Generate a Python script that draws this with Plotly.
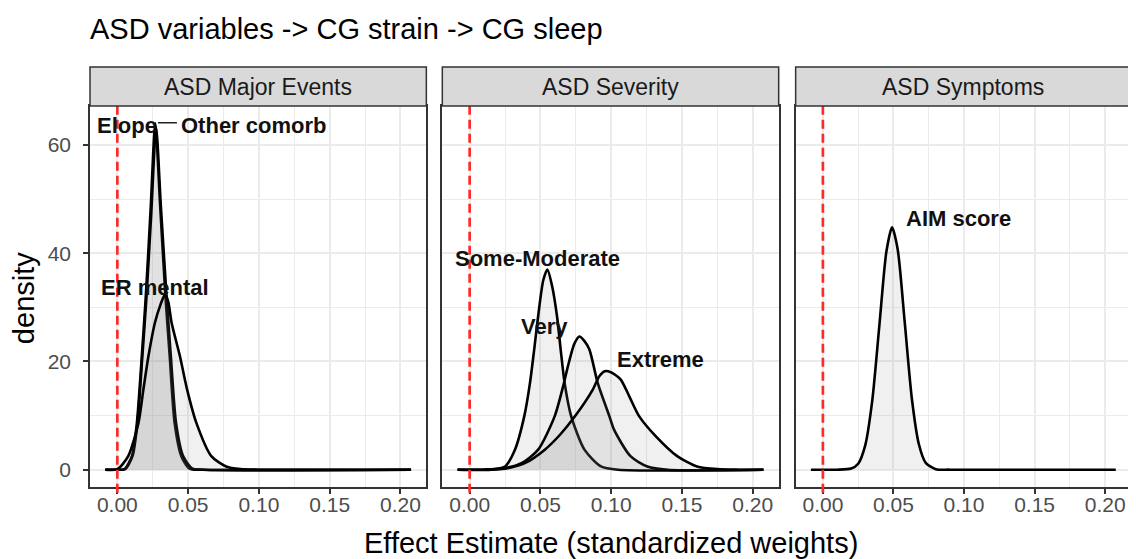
import plotly.graph_objects as go

# ---------------- data ----------------
facets = ["ASD Major Events", "ASD Severity", "ASD Symptoms"]

elope_x = [-0.0085, 0.0, 0.005, 0.0103, 0.0138, 0.0173, 0.0200, 0.0235, 0.0268, 0.0302, 0.0340, 0.0370, 0.0405, 0.0452, 0.0510, 0.060, 0.2075]
elope_y = [0, 0, 0.1, 2.5, 8.6, 21.0, 31.5, 48.0, 64.0, 49.0, 32.0, 21.0, 8.6, 2.5, 0.2, 0, 0]

other_x = [-0.0085, 0.0, 0.0055, 0.0107, 0.0142, 0.0177, 0.0205, 0.0240, 0.0274, 0.0308, 0.0348, 0.0378, 0.0415, 0.0465, 0.0530, 0.062, 0.2075]
other_y = [0, 0, 0.1, 2.5, 8.6, 21.0, 31.5, 47.5, 63.2, 48.5, 32.0, 21.0, 8.6, 2.5, 0.2, 0, 0]

er_x = [-0.0085, 0.0, 0.0077, 0.0149, 0.0184, 0.0220, 0.0266, 0.0305, 0.0337, 0.0360, 0.0383, 0.0442, 0.0493, 0.0559, 0.0664, 0.0769, 0.0870, 0.100, 0.2075]
er_y = [0, 0.1, 2.5, 8.6, 14.8, 21.0, 27.2, 30.5, 32.4, 31.0, 27.2, 21.0, 14.8, 8.6, 2.5, 0.6, 0.1, 0, 0]

some_x = [-0.0085, 0.015, 0.025, 0.032, 0.0386, 0.0426, 0.0456, 0.0484, 0.0520, 0.0549, 0.0582, 0.0617, 0.0643, 0.0671, 0.0717, 0.0811, 0.0928, 0.105, 0.2075]
some_y = [0, 0, 0.6, 3.7, 9.9, 16.0, 22.2, 28.4, 35.0, 37.0, 34.0, 28.4, 22.2, 16.0, 9.9, 3.7, 0.6, 0, 0]

very_x = [-0.0085, 0.010, 0.0226, 0.0367, 0.0484, 0.0601, 0.0666, 0.0694, 0.0740, 0.0776, 0.0810, 0.0846, 0.0905, 0.0987, 0.1020, 0.1136, 0.1255, 0.140, 0.2075]
very_y = [0, 0, 0.2, 1.2, 3.7, 9.9, 16.0, 19.1, 23.3, 24.6, 23.8, 22.2, 16.0, 9.9, 7.4, 2.5, 0.6, 0, 0]

extreme_x = [-0.0085, 0.010, 0.025, 0.039, 0.0531, 0.064, 0.0745, 0.0870, 0.0917, 0.0955, 0.0998, 0.1066, 0.1127, 0.1197, 0.1314, 0.1466, 0.1606, 0.175, 0.190, 0.2075]
extreme_y = [0, 0, 0.2, 1.2, 3.7, 6.5, 9.9, 14.8, 17.3, 18.2, 18.0, 16.7, 13.6, 9.9, 6.2, 2.5, 0.6, 0.1, 0, 0]

aim_x = [-0.0085, 0.0, 0.010, 0.020, 0.025, 0.030, 0.035, 0.040, 0.045, 0.049, 0.053, 0.058, 0.063, 0.068, 0.073, 0.080, 0.090, 0.2075]
aim_y = [0, 0, 0, 0.2, 1.1, 4.5, 12.8, 26.6, 40.3, 44.8, 40.7, 27.2, 13.2, 4.7, 1.2, 0.1, 0, 0]

curves = [
    (1, elope_x, elope_y), (1, other_x, other_y), (1, er_x, er_y),
    (2, some_x, some_y), (2, very_x, very_y), (2, extreme_x, extreme_y),
    (3, aim_x, aim_y),
]

label_text = ["Elope", "Other comorb", "ER mental", "Some-Moderate", "Very", "Extreme", "AIM score"]
label_panel = [1, 1, 1, 2, 2, 2, 3]
label_x = [0.0065, 0.0964, 0.0266, 0.048, 0.0529, 0.1349, 0.0958]
label_y = [63.6, 63.6, 33.6, 39.1, 26.4, 20.3, 46.4]

x_ticks = [0.00, 0.05, 0.10, 0.15, 0.20]
x_ticklabels = ["0.00", "0.05", "0.10", "0.15", "0.20"]
y_ticks = [0, 20, 40, 60]

# ---------------- figure ----------------
OFF = 8  # page body margin of the browser
W, H = 1136 - OFF, 559 - OFF
ML, MR, MT, MB = 90 - OFF, 3, 67 - OFF, 72
pw = W - ML - MR
ph = H - MT - MB
panel_px = [(90, 427), (443, 780), (797, 1133)]
domains = [[(a - 90) / pw, (b - 90) / pw] for a, b in panel_px]
ytop = (487 - 106) / ph

FONT = "Liberation Sans, Arial, sans-serif"
fig = go.Figure()

def ax(i):
    return ("x" if i == 1 else f"x{i}"), ("y" if i == 1 else f"y{i}")

for p, xs, ys in curves:
    xa, ya = ax(p)
    fig.add_trace(go.Scatter(
        x=xs, y=ys, xaxis=xa, yaxis=ya, mode="lines",
        line=dict(color="black", width=2.6, shape="spline", smoothing=0.7),
        fill="tozeroy", fillcolor="rgba(128,128,128,0.12)",
        showlegend=False, hoverinfo="skip"))

xr = [-0.0193, 0.2183]
yr = [-3.2, 67.2]
grid_c = "#EBEBEB"
for i in range(1, 4):
    xk = "xaxis" if i == 1 else f"xaxis{i}"
    yk = "yaxis" if i == 1 else f"yaxis{i}"
    xa, ya = ax(i)
    fig.layout[xk] = dict(
        domain=domains[i - 1], anchor=ya, range=xr, tickmode="array",
        tickvals=x_ticks, ticktext=x_ticklabels, ticks="outside", ticklen=5,
        tickcolor="#333333", tickwidth=1.5, ticklabelstandoff=-7,
        tickfont=dict(family=FONT, size=21, color="#4D4D4D"),
        showgrid=True, gridcolor=grid_c, gridwidth=2,
        minor=dict(tickvals=[0.025, 0.075, 0.125, 0.175], showgrid=True,
                   gridcolor=grid_c, gridwidth=1, ticks=""),
        showline=True, mirror=True, linecolor="#333333", linewidth=1.5,
        zeroline=False, fixedrange=True)
    fig.layout[yk] = dict(
        domain=[0, ytop], anchor=xa, range=yr, tickmode="array",
        tickvals=y_ticks, ticks="outside" if i == 1 else "", ticklen=5,
        tickcolor="#333333", tickwidth=1.5, ticklabelstandoff=8,
        showticklabels=(i == 1),
        tickfont=dict(family=FONT, size=21, color="#4D4D4D"),
        showgrid=True, gridcolor=grid_c, gridwidth=2,
        minor=dict(tickvals=[10, 30, 50], showgrid=True,
                   gridcolor=grid_c, gridwidth=1, ticks=""),
        showline=True, mirror=True, linecolor="#333333", linewidth=1.5,
        zeroline=False, fixedrange=True)
    # red dashed reference line at 0
    fig.add_shape(type="line", xref=xa, yref=f"{ya} domain", x0=0, x1=0,
                  y0=-0.015, y1=1, line=dict(color="#FF2A2A", width=2.7, dash="9px,5px"))
    # strip
    fig.add_shape(type="rect", xref="paper", yref="paper",
                  x0=domains[i - 1][0], x1=domains[i - 1][1], y0=ytop, y1=1.0,
                  fillcolor="#D9D9D9", line=dict(color="#333333", width=1.5))
    fig.add_annotation(xref="paper", yref="paper", x=sum(domains[i - 1]) / 2,
                       y=(ytop + 1) / 2, text=facets[i - 1], showarrow=False,
                       font=dict(family=FONT, size=23, color="#1A1A1A"),
                       xanchor="center", yanchor="middle")

# labels
for t, p, lx, ly in zip(label_text, label_panel, label_x, label_y):
    xa, ya = ax(p)
    fig.add_annotation(xref=xa, yref=ya, x=lx, y=ly, text=f"<b>{t}</b>",
                       showarrow=False, xanchor="center", yanchor="middle",
                       font=dict(family=FONT, size=22, color="#111111"))
# repel segment for "Other comorb"
fig.add_shape(type="line", xref="x", yref="y", x0=0.0287, x1=0.0421, y0=64.1, y1=64.1,
              line=dict(color="#222222", width=1.6))

# axis titles
fig.add_annotation(xref="paper", yref="paper", x=(611.5 - 90) / pw, y=(487 - 543) / ph,
                   text="Effect Estimate (standardized weights)", showarrow=False,
                   xanchor="center", yanchor="middle",
                   font=dict(family=FONT, size=29, color="black"))
fig.add_annotation(xref="paper", yref="paper", x=(24 - 90) / pw, y=(487 - 298) / ph,
                   text="density", textangle=-90, showarrow=False,
                   xanchor="center", yanchor="middle",
                   font=dict(family=FONT, size=29, color="black"))

fig.update_layout(
    width=W, height=H, margin=dict(l=ML, r=MR, t=MT, b=MB, pad=0),
    paper_bgcolor="white", plot_bgcolor="white", showlegend=False,
    title=dict(text="ASD variables -> CG strain -> CG sleep", x=(90 - OFF) / W, xanchor="left",
               xref="container", yref="container", y=1 - (29 - OFF) / H, yanchor="middle",
               font=dict(family=FONT, size=29, color="black")),
)

fig.write_html("out.html")
